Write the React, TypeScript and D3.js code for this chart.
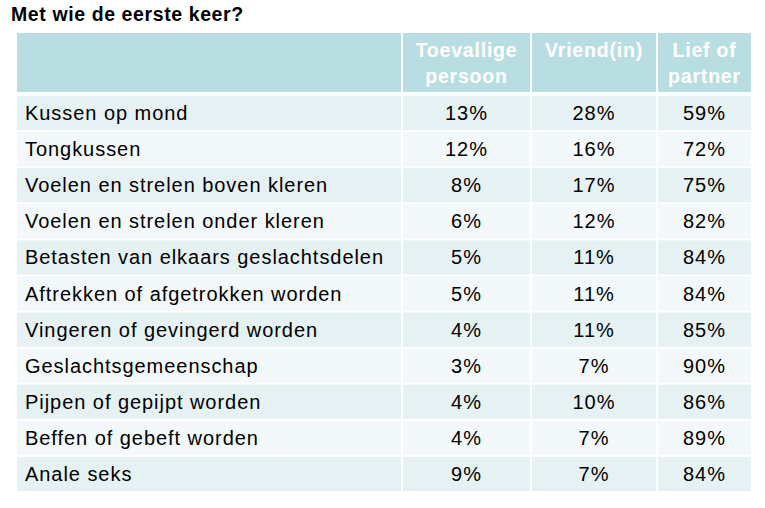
import React from "react";
import * as d3 from "d3";

const title = "Met wie de eerste keer?";
const columns = ["Toevallige\npersoon", "Vriend(in)", "Lief of\npartner"];
const categories = [
  "Kussen op mond",
  "Tongkussen",
  "Voelen en strelen boven kleren",
  "Voelen en strelen onder kleren",
  "Betasten van elkaars geslachtsdelen",
  "Aftrekken of afgetrokken worden",
  "Vingeren of gevingerd worden",
  "Geslachtsgemeenschap",
  "Pijpen of gepijpt worden",
  "Beffen of gebeft worden",
  "Anale seks",
];
const toevallig = [13, 12, 8, 6, 5, 5, 4, 3, 4, 4, 9];
const vriend = [28, 16, 17, 12, 11, 11, 11, 7, 10, 7, 7];
const lief = [59, 72, 75, 82, 84, 84, 85, 90, 86, 89, 84];

const W = 765;
const H = 508;
const FONT = "Arial, 'Liberation Sans', sans-serif";

export default function App() {
  const series = [toevallig, vriend, lief];
  const colEdges = [17, 403, 532, 658, 753];
  const headerTop = 33;
  const headerBottom = 92;
  const y = d3
    .scaleBand<number>()
    .domain(d3.range(categories.length))
    .range([95, 492])
    .paddingInner(0);
  const rowH = y.bandwidth();

  return (
    <svg
      width={W}
      height={H}
      style={{ position: "absolute", left: 0, top: 0, background: "#fff" }}
      fontFamily={FONT}
    >
      <text x={11} y={21} fontSize={19.5} fontWeight="bold" fill="#000" letterSpacing={0.6}>
        {title}
      </text>
      {[0, 1, 2, 3].map((c) => (
        <rect
          key={"h" + c}
          x={colEdges[c]}
          y={headerTop}
          width={colEdges[c + 1] - colEdges[c] - 2}
          height={headerBottom - headerTop}
          fill="#B9DEE1"
        />
      ))}
      {columns.map((label, c) => {
        const cx = (colEdges[c + 1] + colEdges[c + 2] - 2) / 2;
        const lines = label.split("\n");
        return (
          <text
            key={"ht" + c}
            x={cx}
            textAnchor="middle"
            fontSize={19.5}
            fontWeight="bold"
            fill="#fff"
            letterSpacing={0.8}
          >
            {lines.map((l, k) => (
              <tspan key={k} x={cx} y={57 + k * 26}>
                {l}
              </tspan>
            ))}
          </text>
        );
      })}
      {categories.map((cat, r) => {
        const top = y(r)!;
        const fill = r % 2 === 0 ? "#E6F1F3" : "#F3F8FA";
        const baseY = top + rowH / 2 + 7;
        return (
          <g key={cat}>
            {[0, 1, 2, 3].map((c) => (
              <rect
                key={c}
                x={colEdges[c]}
                y={top + 1}
                width={colEdges[c + 1] - colEdges[c] - 2}
                height={rowH - 2}
                fill={fill}
              />
            ))}
            <text x={25} y={baseY} fontSize={20} fill="#000" letterSpacing={0.95}>
              {cat}
            </text>
            {series.map((s, c) => (
              <text
                key={"v" + c}
                x={(colEdges[c + 1] + colEdges[c + 2] - 2) / 2}
                y={baseY}
                fontSize={20}
                textAnchor="middle"
                fill="#000"
                letterSpacing={0.95}
              >
                {s[r] + "%"}
              </text>
            ))}
          </g>
        );
      })}
    </svg>
  );
}
